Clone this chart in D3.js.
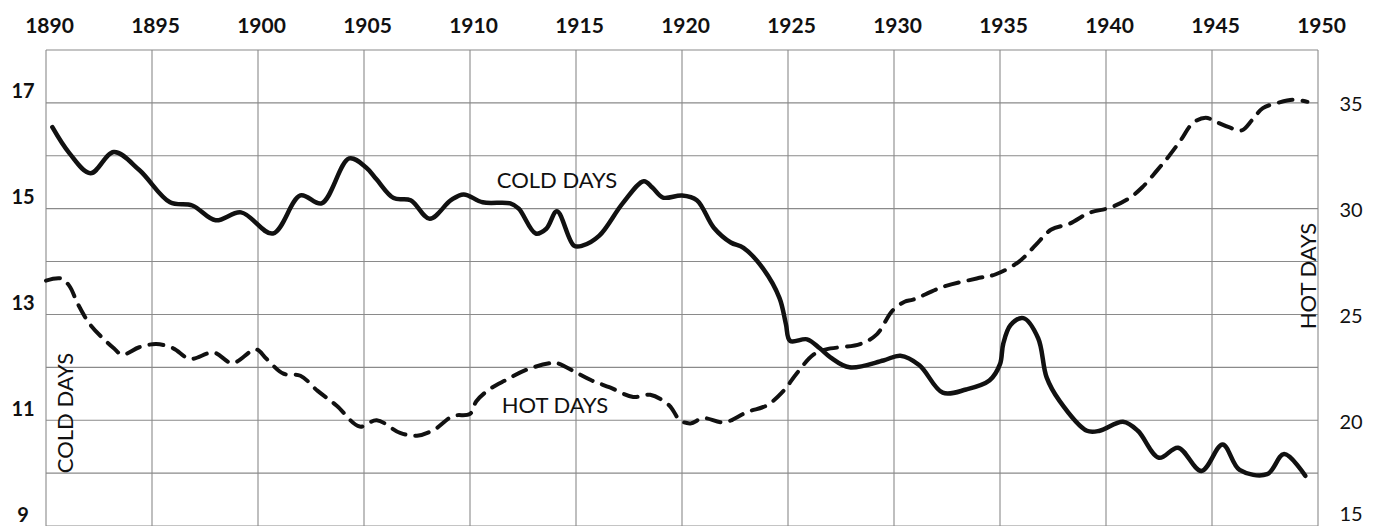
<!DOCTYPE html>
<html>
<head>
<meta charset="utf-8">
<script src="https://cdn.jsdelivr.net/npm/d3@7"></script>
<style>
  html, body { margin: 0; padding: 0; background: #fff; }
  svg { display: block; }
  text { font-family: Lato, "Open Sans", sans-serif; fill: #111; }
</style>
</head>
<body>
<svg id="chart" width="1375" height="526"></svg>
<script>
// Year ticks along the top, cold-day ticks (left) and hot-day ticks (right)
const yearTicks = [1890, 1895, 1900, 1905, 1910, 1915, 1920, 1925, 1930, 1935, 1940, 1945, 1950];
const coldTicks = [9, 11, 13, 15, 17];
const hotTicks = [15, 20, 25, 30, 35];

// Cold days per year (smoothed), solid line
const coldYear = [1890.3, 1891.1, 1892.1, 1893.2, 1894.4, 1895.85, 1896.9, 1898.0, 1899.2, 1900.7,
  1902.0, 1903.0, 1904.3, 1905.1, 1905.6, 1906.4, 1907.2, 1908.1, 1909.1, 1909.7,
  1910.6, 1911.9, 1912.3, 1913.1, 1913.6, 1914.1, 1914.9, 1915.3, 1916.1, 1917.2,
  1918.2, 1918.6, 1919.1, 1920.0, 1920.7, 1921.5, 1922.3, 1922.9, 1923.8, 1924.6,
  1924.9, 1925.1, 1925.9, 1926.5, 1927.0, 1927.9, 1929.5, 1930.3, 1931.2, 1932.3,
  1933.4, 1934.5, 1935.0, 1935.15, 1935.5, 1936.1, 1936.8, 1937.2, 1937.8, 1939.1,
  1939.7, 1940.8, 1941.5, 1942.5, 1943.4, 1944.5, 1945.5, 1946.3, 1947.6, 1948.4, 1949.4];
const coldDays = [16.54, 16.05, 15.67, 16.07, 15.73, 15.12, 15.06, 14.78, 14.93, 14.53,
  15.25, 15.10, 15.95, 15.78, 15.55, 15.20, 15.16, 14.81, 15.16, 15.27,
  15.12, 15.10, 15.00, 14.53, 14.62, 14.95, 14.30, 14.30, 14.49, 15.10,
  15.52, 15.40, 15.21, 15.25, 15.16, 14.64, 14.36, 14.26, 13.88, 13.31,
  12.82, 12.50, 12.53, 12.36, 12.19, 12.00, 12.13, 12.22, 12.04, 11.52,
  11.58, 11.75, 12.06, 12.44, 12.80, 12.93, 12.55, 11.81, 11.37, 10.80,
  10.80, 10.97, 10.80, 10.29, 10.48, 10.04, 10.54, 10.06, 9.98, 10.36, 9.95];

// Hot days per year (smoothed), dashed line
const hotYear = [1890.0, 1890.7, 1891.1, 1891.5, 1892.1, 1893.2, 1893.6, 1894.4, 1895.2, 1896.0,
  1896.8, 1897.9, 1898.8, 1899.9, 1900.4, 1901.2, 1902.0, 1902.8, 1903.7, 1904.8,
  1905.6, 1906.7, 1907.5, 1908.3, 1909.2, 1910.0, 1910.3, 1910.9, 1911.7, 1912.7,
  1913.8, 1914.1, 1915.0, 1915.7, 1916.6, 1917.7, 1918.5, 1919.4, 1919.9, 1920.4,
  1921.0, 1922.0, 1923.1, 1924.0, 1924.8, 1925.4, 1926.2, 1926.8, 1928.4, 1929.2,
  1929.9, 1930.5, 1930.9, 1932.3, 1933.9, 1934.8, 1935.9, 1936.7, 1937.4, 1938.3,
  1939.2, 1940.2, 1941.1, 1941.7, 1942.4, 1942.9, 1943.5, 1944.1, 1944.7, 1945.2,
  1945.8, 1946.4, 1946.9, 1947.4, 1948.1, 1948.8, 1949.5];
const hotDays = [26.6, 26.7, 26.35, 25.5, 24.5, 23.4, 23.1, 23.45, 23.6, 23.4,
  22.9, 23.2, 22.7, 23.35, 22.9, 22.2, 22.1, 21.4, 20.7, 19.7,
  20.0, 19.4, 19.27, 19.55, 20.2, 20.3, 20.9, 21.45, 21.9, 22.4,
  22.7, 22.7, 22.26, 21.9, 21.55, 21.1, 21.2, 20.7, 20.0, 19.85,
  20.1, 19.9, 20.4, 20.7, 21.4, 22.2, 23.1, 23.35, 23.6, 24.07,
  25.15, 25.6, 25.7, 26.3, 26.7, 26.9, 27.5, 28.3, 29.0, 29.3,
  29.8, 30.05, 30.5, 31.0, 31.8, 32.4, 33.2, 34.05, 34.3, 34.1,
  33.85, 33.7, 34.2, 34.75, 35.0, 35.15, 35.05];

const svg = d3.select("#chart");
svg.append("rect").attr("width", 1375).attr("height", 526).attr("fill", "#fff");

const x = d3.scaleLinear().domain([1890, 1950]).range([46, 1318]);
const yCold = d3.scaleLinear().domain([9, 18]).range([526, 50]);
const yHot = d3.scaleLinear().domain([15, 37.5]).range([526, 50]);

// Grid
const grid = svg.append("g").attr("stroke", "#8a8a8a").attr("stroke-width", 1.1);
grid.selectAll("line.v").data(yearTicks).join("line")
  .attr("x1", d => x(d)).attr("x2", d => x(d))
  .attr("y1", yCold(18)).attr("y2", 526);
grid.selectAll("line.h").data(d3.range(9, 19)).join("line")
  .attr("x1", x(1890)).attr("x2", x(1950))
  .attr("y1", d => yCold(d)).attr("y2", d => yCold(d));

// Top year axis
const topAxis = svg.append("g")
  .attr("transform", `translate(0,${yCold(18)})`)
  .call(d3.axisTop(x).tickValues(yearTicks).tickFormat(d3.format("d")).tickSize(0).tickPadding(17));
topAxis.select(".domain").remove();
topAxis.selectAll("text")
  .attr("font-size", 21).attr("font-weight", "bold").attr("dx", 3)
  .attr("font-family", "Lato, sans-serif").attr("fill", "#111");

// Left axis: cold days
const leftAxis = svg.append("g")
  .attr("transform", "translate(23,0)")
  .call(d3.axisLeft(yCold).tickValues(coldTicks).tickFormat(d3.format("d")).tickSize(0).tickPadding(0));
leftAxis.select(".domain").remove();
leftAxis.selectAll("text")
  .attr("text-anchor", "middle").attr("dy", -5)
  .attr("font-size", 20).attr("font-weight", "bold")
  .attr("font-family", "Lato, sans-serif").attr("fill", "#111");

// Right axis: hot days (the lowest label is lifted to stay on the canvas)
const rightAxis = svg.append("g")
  .attr("transform", "translate(1351,0)")
  .call(d3.axisRight(yHot).tickValues(hotTicks).tickFormat(d3.format("d")).tickSize(0).tickPadding(0));
rightAxis.select(".domain").remove();
rightAxis.selectAll("text")
  .attr("text-anchor", "middle").attr("dy", d => d === 15 ? "-0.3em" : "0.4em")
  .attr("font-size", 20).attr("font-weight", "normal")
  .attr("font-family", "Lato, sans-serif").attr("fill", "#111");

// Series lines
const coldLine = d3.line()
  .x(i => x(coldYear[i])).y(i => yCold(coldDays[i]))
  .curve(d3.curveCatmullRom.alpha(0.5));
const hotLine = d3.line()
  .x(i => x(hotYear[i])).y(i => yHot(hotDays[i]))
  .curve(d3.curveCatmullRom.alpha(0.5));

svg.append("path")
  .attr("d", hotLine(d3.range(hotYear.length)))
  .attr("fill", "none").attr("stroke", "#111").attr("stroke-width", 4)
  .attr("stroke-dasharray", "14 10").attr("stroke-linecap", "round");

svg.append("path")
  .attr("d", coldLine(d3.range(coldYear.length)))
  .attr("fill", "none").attr("stroke", "#111").attr("stroke-width", 4.5)
  .attr("stroke-linejoin", "round").attr("stroke-linecap", "round");

// Series labels
const lbl = svg.append("g").attr("font-size", 22).attr("font-family", "Lato, sans-serif");
lbl.append("text").attr("x", 557).attr("y", 188).attr("text-anchor", "middle").text("COLD DAYS");
lbl.append("text").attr("x", 555).attr("y", 413).attr("text-anchor", "middle").text("HOT DAYS");
lbl.append("text").attr("transform", "translate(73,413) rotate(-90)")
  .attr("text-anchor", "middle").text("COLD DAYS");
lbl.append("text").attr("transform", "translate(1316,276) rotate(-90)")
  .attr("text-anchor", "middle").text("HOT DAYS");
</script>
</body>
</html>
